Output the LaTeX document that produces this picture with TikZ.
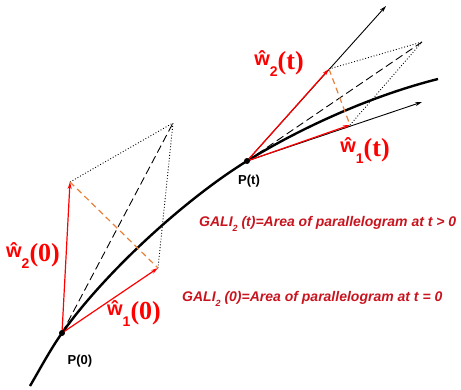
\documentclass[tikz,border=0pt]{standalone}
\usepackage{fontspec}
\setmainfont{Liberation Serif}
\newfontfamily\galifont{Liberation Sans}
\usetikzlibrary{arrows.meta}
\definecolor{galired}{HTML}{C8141E}
\definecolor{orangedash}{HTML}{E8803A}
\newcommand{\wlab}[2]{{\galifont\bfseries\fontsize{20}{22}\selectfont\raisebox{4pt}{ŵ}\raisebox{-7pt}{\fontsize{14}{15}\selectfont #1}}{\fontsize{26}{28}\selectfont\bfseries(#2)}}
\tikzset{
  vec/.style={red, line width=1.2pt, -{Stealth[length=7pt,width=4pt]}},
  thinarrow/.style={black, line width=0.9pt, -{Stealth[length=7pt,width=4pt]}},
  dots/.style={black, line width=0.9pt, dotted},
  diag/.style={black, line width=0.9pt, dash pattern=on 8pt off 4pt},
  odiag/.style={orangedash, line width=1.2pt, dash pattern=on 6pt off 4pt},
  wlabel/.style={red, inner sep=0pt},
  plabel/.style={black, font=\galifont\fontsize{13}{14}\selectfont\bfseries},
  galitext/.style={galired, font=\galifont\fontsize{14}{16}\selectfont\bfseries\itshape, anchor=west, inner sep=0pt},
  pt/.style={circle, fill=black, inner sep=0pt, minimum size=6pt}
}
\begin{document}
\begin{tikzpicture}[x=1pt,y=-1pt]
\useasboundingbox (0,0) rectangle (461,389);
% points
\coordinate (S) at (30,386);
\coordinate (P0) at (62,333);
\coordinate (Pt) at (247,161);
\coordinate (E) at (438,79);
\coordinate (A0) at (158,268);
\coordinate (B0) at (70,182);
\coordinate (C0) at (173,123);
\coordinate (At) at (350,125);
\coordinate (Bt) at (329,69);
\coordinate (Ct) at (422,42);
\coordinate (T1) at (386,6);
\coordinate (T2) at (422,102);
% curve
\draw[black, line width=2.4pt] (S) .. controls (40,369) and (50,350) .. (P0)
  .. controls (107,270) and (187,198) .. (Pt)
  .. controls (307,124) and (378,94) .. (E);
% left parallelogram
\draw[dots] (B0) -- (C0) -- (A0);
\draw[diag] (P0) -- (C0);
\draw[odiag] (B0) -- (A0);
\draw[vec] (P0) -- (A0);
\draw[vec] (P0) -- (B0);
% right parallelogram
\draw[thinarrow] (Pt) -- (T1);
\draw[thinarrow] (Pt) -- (T2);
\draw[dots] (Bt) -- (Ct) -- (At);
\draw[diag] (Pt) -- (Ct);
\draw[odiag] (Bt) -- (At);
\draw[vec] (Pt) -- (At);
\draw[vec] (Pt) -- (Bt);
% points
\node[pt] (p0dot) at (P0) {};
\node[pt] (ptdot) at (Pt) {};
% labels
\node[wlabel] (w2t) at (279,64) {\wlab{2}{t}};
\node[wlabel] (w1t) at (365,151) {\wlab{1}{t}};
\node[wlabel] (w20) at (33,256) {\wlab{2}{0}};
\node[wlabel] (w10) at (134,314) {\wlab{1}{0}};
\node[plabel] (plt) at (249,181) {P(t)};
\node[plabel] (pl0) at (80,361) {P(0)};
\node[galitext] (g1) at (199,224) {GALI\raisebox{-0.6ex}{\fontsize{9}{10}\selectfont 2} (t)=Area of parallelogram at t > 0};
\node[galitext] (g2) at (182,299) {GALI\raisebox{-0.6ex}{\fontsize{9}{10}\selectfont 2} (0)=Area of parallelogram at t = 0};
\end{tikzpicture}
\end{document}
